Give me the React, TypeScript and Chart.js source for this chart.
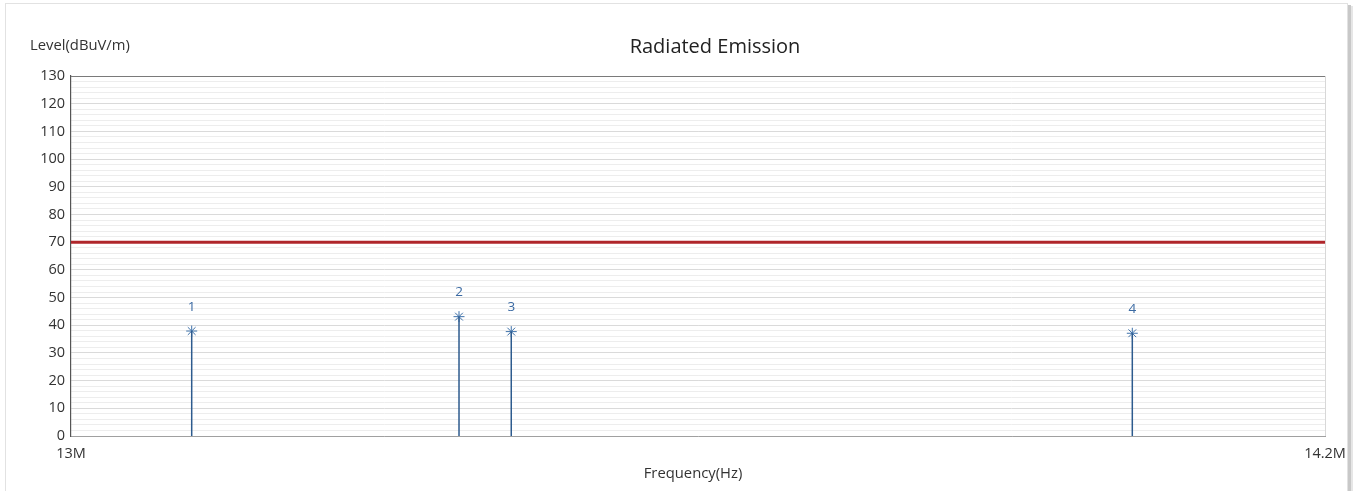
import React, { useEffect, useRef } from "react";
import { Chart, registerables } from "chart.js";

Chart.register(...registerables);

const MARKER_IDS = ["1", "2", "3", "4"];
const MARKER_FREQ_MHZ = [13.1155, 13.3713, 13.4213, 14.0156];
const MARKER_LEVEL = [37.9, 43.1, 37.7, 37.1];
const LIMIT_LEVEL = 70;
const X_MIN = 13;
const X_MAX = 14.2;
const X_TICK_VALUES = [13, 14.2];
const X_TICK_LABELS = ["13M", "14.2M"];
const Y_MIN = 0;
const Y_MAX = 130;
const TITLE = "Radiated Emission";
const Y_TITLE = "Level(dBuV/m)";
const X_TITLE = "Frequency(Hz)";

const FONT = "'Open Sans', 'Noto Sans', sans-serif";
const STEM_COLOR = "#2d5b8e";
const LABEL_COLOR = "#3b6aa3";

export default function App() {
  const ref = useRef<HTMLCanvasElement | null>(null);

  useEffect(() => {
    if (!ref.current) return;

    const decor = {
      id: "decor",
      beforeDraw(chart: any) {
        const c = chart.ctx;
        c.save();
        c.fillStyle = "#ffffff";
        c.fillRect(0, 0, chart.width, chart.height);
        c.fillStyle = "#c8c8c8";
        c.fillRect(1348, 5, 3, 486);
        c.fillStyle = "#e6e6e6";
        c.fillRect(1351, 6, 2, 485);
        c.strokeStyle = "#e2e2e2";
        c.lineWidth = 1;
        c.strokeRect(5.5, 3.5, 1342, 492);
        c.restore();
      },
      afterDraw(chart: any) {
        const c = chart.ctx;
        const a = chart.chartArea;
        c.save();
        c.strokeStyle = "#7a7a7a";
        c.lineWidth = 1.2;
        c.beginPath();
        c.moveTo(a.left, a.top + 0.5);
        c.lineTo(a.right, a.top + 0.5);
        c.stroke();
        c.strokeStyle = "#d8d8d8";
        c.lineWidth = 1;
        c.beginPath();
        c.moveTo(a.right + 0.5, a.top);
        c.lineTo(a.right + 0.5, a.bottom);
        c.stroke();
        c.fillStyle = "#222";
        c.textBaseline = "middle";
        c.textAlign = "center";
        c.font = `20px ${FONT}`;
        c.fillText(TITLE, 715, 47);
        c.font = `14.8px ${FONT}`;
        c.fillStyle = "#333";
        c.textAlign = "left";
        c.fillText(Y_TITLE, 30, 46);
        c.textAlign = "center";
        c.fillText(X_TITLE, 693, 474);
        const xs = chart.scales.x;
        const ys = chart.scales.y;
        c.fillStyle = LABEL_COLOR;
        c.font = `13.5px ${FONT}`;
        MARKER_IDS.forEach((id, i) => {
          const px = xs.getPixelForValue(MARKER_FREQ_MHZ[i]);
          const py = ys.getPixelForValue(MARKER_LEVEL[i]);
          c.fillText(id, px, py - 24);
        });
        c.restore();
      },
    };

    const stemSets = MARKER_FREQ_MHZ.map((f, i) => ({
      type: "line" as const,
      data: [
        { x: f, y: 0 },
        { x: f, y: MARKER_LEVEL[i] },
      ],
      borderColor: STEM_COLOR,
      borderWidth: 1.5,
      pointRadius: 0,
      fill: false,
    }));

    const chart = new Chart(ref.current, {
      type: "scatter",
      data: {
        datasets: [
          {
            type: "line",
            data: [
              { x: X_MIN, y: LIMIT_LEVEL },
              { x: X_MAX, y: LIMIT_LEVEL },
            ],
            borderColor: "#b0262b",
            borderWidth: 3,
            pointRadius: 0,
            fill: false,
          } as any,
          ...stemSets,
          {
            type: "scatter",
            data: MARKER_FREQ_MHZ.map((f, i) => ({ x: f, y: MARKER_LEVEL[i] })),
            pointStyle: "star",
            pointRadius: 5.5,
            borderColor: "#3f72aa",
            backgroundColor: "#3f72aa",
            borderWidth: 1,
          } as any,
        ],
      },
      options: {
        animation: false,
        responsive: false,
        devicePixelRatio: 1,
        layout: { padding: { top: 76, right: 35, bottom: 0, left: 0 } },
        plugins: {
          legend: { display: false },
          tooltip: { enabled: false },
          title: { display: false },
        },
        scales: {
          x: {
            type: "linear",
            min: X_MIN,
            max: X_MAX,
            afterBuildTicks: (s: any) => {
              s.ticks = X_TICK_VALUES.map((v) => ({ value: v }));
            },
            afterFit: (s: any) => {
              s.height = 55;
            },
            grid: { display: false, drawTicks: false },
            border: { display: true, color: "#a0a0a0", width: 1 },
            ticks: {
              autoSkip: false,
              maxRotation: 0,
              padding: 9,
              color: "#333",
              font: { family: FONT, size: 14.5 },
              callback: (v: any) => {
                const idx = X_TICK_VALUES.findIndex((t) => Math.abs(t - Number(v)) < 1e-9);
                return idx >= 0 ? X_TICK_LABELS[idx] : "";
              },
            },
          },
          y: {
            type: "linear",
            min: Y_MIN,
            max: Y_MAX,
            afterFit: (s: any) => {
              s.width = 71;
            },
            grid: {
              drawTicks: false,
              color: (ctx: any) => {
                const v = ctx.tick ? ctx.tick.value : 0;
                if (v === Y_MAX) return "rgba(0,0,0,0)";
                return v % 10 === 0 ? "#dadada" : "#ededed";
              },
              lineWidth: 1,
            },
            border: { display: true, color: "#555", width: 1.2 },
            ticks: {
              stepSize: 2,
              maxTicksLimit: 200,
              autoSkip: false,
              padding: 6,
              color: "#333",
              font: { family: FONT, size: 14.5 },
              callback: (v: any) => (Number(v) % 10 === 0 ? String(v) : ""),
            },
          },
        },
      } as any,
      plugins: [decor],
    });

    return () => chart.destroy();
  }, []);

  return (
    <div style={{ position: "fixed", left: 0, top: 0, width: 1360, height: 491, background: "#fff" }}>
      <canvas ref={ref} width={1360} height={491} style={{ display: "block" }} />
    </div>
  );
}
